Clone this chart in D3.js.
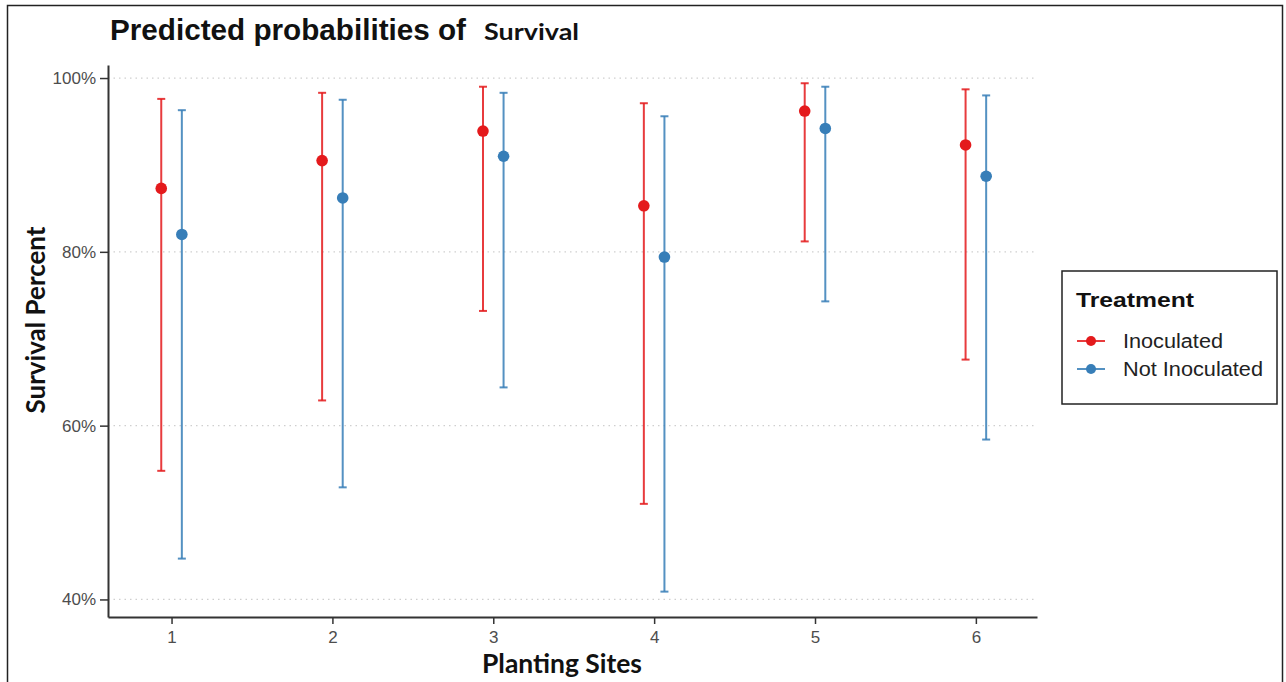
<!DOCTYPE html>
<html>
<head>
<meta charset="utf-8">
<script src="https://cdn.jsdelivr.net/npm/d3@7"></script>
<style>
  body { margin: 0; background: #fff; }
  svg { display: block; }
</style>
</head>
<body>
<div id="chart"></div>
<script>
// chart data
const SITES = [1, 2, 3, 4, 5, 6];
const GROUPS = ["Inoculated", "Not Inoculated"];
const COLORS = ["#e41a1c", "#377eb8"];

const INOC_PRED  = [87.3, 90.5, 93.9, 85.3, 96.2, 92.3];
const INOC_LOW   = [54.8, 62.9, 73.2, 51.0, 81.2, 67.6];
const INOC_HIGH  = [97.6, 98.3, 99.0, 97.1, 99.4, 98.7];

const NOT_PRED   = [82.0, 86.2, 91.0, 79.4, 94.2, 88.7];
const NOT_LOW    = [44.7, 52.9, 64.4, 40.9, 74.3, 58.4];
const NOT_HIGH   = [96.3, 97.5, 98.3, 95.6, 99.0, 98.0];

const Y_TICKS = [40, 60, 80, 100];

// frame
const FRAME_WIDTH = 1286;
const FRAME_HEIGHT = 682;
const PLOT = {left: 108, right: 1037, top: 65, bottom: 617};
const DODGE = 0.064;
const SANS = "'Liberation Sans', Arial, sans-serif";
const LABEL_FONT = "Lato, 'Open Sans', sans-serif";

const svg = d3.select("#chart")
  .append("svg")
    .attr("width", FRAME_WIDTH)
    .attr("height", FRAME_HEIGHT);

// outer border of the screenshot
svg.append("rect")
  .attr("x", 7.5).attr("y", 5.5)
  .attr("width", 1275).attr("height", 690)
  .attr("fill", "none")
  .attr("stroke", "#222")
  .attr("stroke-width", 1.5);

const X_SCALE = d3.scaleLinear()
  .domain([0.605, 6.38])
  .range([PLOT.left, PLOT.right]);

const Y_SCALE = d3.scaleLinear()
  .domain([37.98, 101.5])
  .range([PLOT.bottom, PLOT.top]);

// dotted gridlines
svg.append("g")
  .selectAll("line")
  .data(Y_TICKS)
  .enter().append("line")
    .attr("x1", PLOT.left).attr("x2", PLOT.right)
    .attr("y1", d => Y_SCALE(d)).attr("y2", d => Y_SCALE(d))
    .attr("stroke", "#cfcfcf")
    .attr("stroke-width", 1.3)
    .attr("stroke-dasharray", "1.5,4");

// axes
const yAxis = svg.append("g")
  .attr("transform", "translate(" + PLOT.left + ",0)")
  .call(d3.axisLeft(Y_SCALE).tickValues(Y_TICKS).tickSizeInner(8).tickSizeOuter(0).tickPadding(4)
        .tickFormat(d => d + "%"));

const xAxis = svg.append("g")
  .attr("transform", "translate(0," + PLOT.bottom + ")")
  .call(d3.axisBottom(X_SCALE).tickValues(SITES).tickSizeInner(7).tickSizeOuter(0).tickPadding(7)
        .tickFormat(d3.format("d")));

[yAxis, xAxis].forEach(ax => {
  ax.select(".domain").attr("stroke", "#333").attr("stroke-width", 2);
  ax.selectAll(".tick line").attr("stroke", "#333").attr("stroke-width", 1.5);
  ax.selectAll(".tick text")
    .attr("fill", "#4d4d4d")
    .style("font-family", SANS)
    .style("font-size", "17px");
});

// series
const SERIES = [
  {name: GROUPS[0], color: COLORS[0], offset: -DODGE, pred: INOC_PRED, low: INOC_LOW, high: INOC_HIGH},
  {name: GROUPS[1], color: COLORS[1], offset: DODGE, pred: NOT_PRED, low: NOT_LOW, high: NOT_HIGH}
];

SERIES.forEach(s => {
  const rows = SITES.map((site, i) => ({x: site + s.offset, p: s.pred[i], lo: s.low[i], hi: s.high[i]}));
  const g = svg.append("g");
  const line = g.selectAll(".bar").data(rows).enter();

  line.append("line")
    .attr("x1", d => X_SCALE(d.x)).attr("x2", d => X_SCALE(d.x))
    .attr("y1", d => Y_SCALE(d.lo)).attr("y2", d => Y_SCALE(d.hi))
    .attr("stroke", s.color).attr("stroke-width", 2).attr("opacity", 0.85);

  ["lo", "hi"].forEach(k => {
    line.append("line")
      .attr("x1", d => X_SCALE(d.x) - 4).attr("x2", d => X_SCALE(d.x) + 4)
      .attr("y1", d => Y_SCALE(d[k])).attr("y2", d => Y_SCALE(d[k]))
      .attr("stroke", s.color).attr("stroke-width", 2).attr("opacity", 0.85);
  });

  line.append("circle")
    .attr("cx", d => X_SCALE(d.x))
    .attr("cy", d => Y_SCALE(d.p))
    .attr("r", 5.8)
    .attr("fill", s.color);
});

// titles
svg.append("text")
  .attr("x", 110).attr("y", 40)
  .attr("textLength", 356).attr("lengthAdjust", "spacingAndGlyphs")
  .style("font-family", SANS)
  .style("font-weight", "bold").style("font-size", "29.5px")
  .attr("fill", "#111")
  .text("Predicted probabilities of");
svg.append("text")
  .attr("x", 484).attr("y", 40)
  .attr("textLength", 95).attr("lengthAdjust", "spacingAndGlyphs")
  .style("font-family", LABEL_FONT)
  .style("font-weight", "bold").style("font-size", "23px")
  .attr("fill", "#111")
  .text("Survival");

svg.append("text")
  .attr("transform", "translate(45,320) rotate(-90)")
  .attr("text-anchor", "middle")
  .attr("textLength", 187).attr("lengthAdjust", "spacingAndGlyphs")
  .style("font-family", LABEL_FONT)
  .style("font-weight", "bold").style("font-size", "26px")
  .attr("fill", "#111")
  .text("Survival Percent");

svg.append("text")
  .attr("x", 562).attr("y", 673)
  .attr("text-anchor", "middle")
  .attr("textLength", 160).attr("lengthAdjust", "spacingAndGlyphs")
  .style("font-family", LABEL_FONT)
  .style("font-weight", "bold").style("font-size", "27px")
  .attr("fill", "#111")
  .text("Planting Sites");

// legend
const legend = svg.append("g").attr("transform", "translate(1062,271)");
legend.append("rect")
  .attr("width", 215).attr("height", 133)
  .attr("fill", "#fff").attr("stroke", "#222").attr("stroke-width", 1.5);
legend.append("text")
  .attr("x", 14).attr("y", 36)
  .attr("textLength", 118).attr("lengthAdjust", "spacingAndGlyphs")
  .style("font-family", SANS)
  .style("font-weight", "bold").style("font-size", "21px")
  .attr("fill", "#111")
  .text("Treatment");

const LEGEND_WIDTHS = [100, 140];
const items = legend.selectAll(".item")
  .data(GROUPS)
  .enter().append("g")
    .attr("transform", (d, i) => "translate(0," + (70 + i * 28) + ")");
items.append("line")
  .attr("x1", 15).attr("x2", 43)
  .attr("stroke", (d, i) => COLORS[i]).attr("stroke-width", 2).attr("opacity", 0.85);
items.append("circle")
  .attr("cx", 29).attr("r", 5)
  .attr("fill", (d, i) => COLORS[i]);
items.append("text")
  .attr("x", 61).attr("y", 6.5)
  .attr("textLength", (d, i) => LEGEND_WIDTHS[i]).attr("lengthAdjust", "spacingAndGlyphs")
  .style("font-family", SANS)
  .style("font-size", "20px")
  .attr("fill", "#222")
  .text(d => d);
</script>
</body>
</html>
